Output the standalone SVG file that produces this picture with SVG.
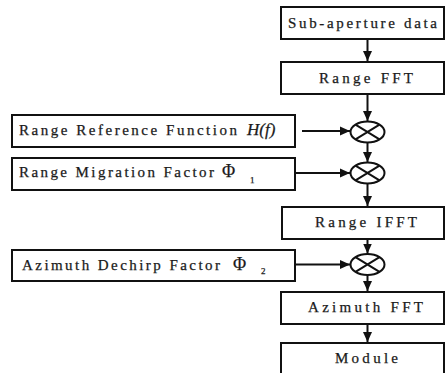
<svg xmlns="http://www.w3.org/2000/svg" width="445" height="373" viewBox="0 0 445 373">
<defs>
<style>
.box{fill:#fff;stroke:#111;stroke-width:2}
.lbl{font-family:"Liberation Serif","Times New Roman",serif;font-size:15px;fill:#1a1a1a;stroke:#1a1a1a;stroke-width:0.25}
.it{font-style:italic}
.sub{font-size:9px}
.con{stroke:#111;stroke-width:2;fill:none}
.mul{fill:#fff;stroke:#111;stroke-width:2}
</style>
<marker id="ah" markerUnits="userSpaceOnUse" markerWidth="11" markerHeight="10" refX="10" refY="5" orient="auto">
<path d="M0,0.5 L10,5 L0,9.5 z" fill="#111"/>
</marker>
</defs>
<rect width="445" height="373" fill="#fff"/>
<g id="sub-aperture">
<rect class="box" x="281" y="7" width="163" height="32"/>
<text class="lbl" x="288" y="28" textLength="149" lengthAdjust="spacing">Sub-aperture data</text>
</g>
<g id="range-fft">
<rect class="box" x="281" y="62" width="163" height="32"/>
<text class="lbl" x="319" y="83" textLength="94" lengthAdjust="spacing">Range FFT</text>
</g>
<g id="range-ref">
<rect class="box" x="12" y="115" width="283" height="32"/>
<text class="lbl" x="19" y="135"><tspan textLength="218" lengthAdjust="spacing">Range Reference Function</tspan><tspan class="it" x="247" font-size="17">H</tspan><tspan class="it" font-size="17">(</tspan><tspan class="it" font-size="17">f</tspan><tspan class="it" font-size="17">)</tspan></text>
</g>
<g id="range-mig">
<rect class="box" x="12" y="158" width="283" height="32"/>
<text class="lbl" x="19" y="177"><tspan textLength="195" lengthAdjust="spacing">Range Migration Factor</tspan><tspan x="222" font-size="18">Φ</tspan><tspan class="sub" x="250" y="183">1</tspan></text>
</g>
<g id="range-ifft">
<rect class="box" x="282" y="207" width="162" height="32"/>
<text class="lbl" x="315" y="227" textLength="102" lengthAdjust="spacing">Range IFFT</text>
</g>
<g id="az-dechirp">
<rect class="box" x="12" y="250" width="283" height="31"/>
<text class="lbl" x="22" y="270"><tspan textLength="198" lengthAdjust="spacing">Azimuth Dechirp Factor</tspan><tspan x="233" font-size="18">Φ</tspan><tspan class="sub" x="261" y="274">2</tspan></text>
</g>
<g id="az-fft">
<rect class="box" x="281" y="292" width="163" height="32"/>
<text class="lbl" x="308" y="312" textLength="115" lengthAdjust="spacing">Azimuth FFT</text>
</g>
<g id="module">
<rect class="box" x="281" y="343" width="163" height="40"/>
<text class="lbl" x="335" y="363" textLength="63" lengthAdjust="spacing">Module</text>
</g>
<g id="mult1">
<ellipse class="mul" cx="367.5" cy="132" rx="17" ry="10.5"/>
<path class="con" d="M355.5,124.6 L379.5,139.4 M355.5,139.4 L379.5,124.6"/>
</g>
<g id="mult2">
<ellipse class="mul" cx="367.5" cy="173" rx="17" ry="10.5"/>
<path class="con" d="M355.5,165.6 L379.5,180.4 M355.5,180.4 L379.5,165.6"/>
</g>
<g id="mult3">
<ellipse class="mul" cx="367.5" cy="264.5" rx="17" ry="10.5"/>
<path class="con" d="M355.5,257.1 L379.5,271.9 M355.5,271.9 L379.5,257.1"/>
</g>
<g id="connectors">
<line class="con" x1="367.5" y1="39" x2="367.5" y2="61" marker-end="url(#ah)"/>
<line class="con" x1="367.5" y1="94" x2="367.5" y2="121" marker-end="url(#ah)"/>
<line class="con" x1="302" y1="131" x2="350" y2="131" marker-end="url(#ah)"/>
<line class="con" x1="367.5" y1="142.5" x2="367.5" y2="162" marker-end="url(#ah)"/>
<line class="con" x1="295" y1="173" x2="350" y2="173" marker-end="url(#ah)"/>
<line class="con" x1="367.5" y1="183.5" x2="367.5" y2="206" marker-end="url(#ah)"/>
<line class="con" x1="367.5" y1="239" x2="367.5" y2="253.5" marker-end="url(#ah)"/>
<line class="con" x1="295" y1="264.5" x2="350" y2="264.5" marker-end="url(#ah)"/>
<line class="con" x1="367.5" y1="275" x2="367.5" y2="291" marker-end="url(#ah)"/>
<line class="con" x1="367.5" y1="324" x2="367.5" y2="342" marker-end="url(#ah)"/>
</g>
</svg>
